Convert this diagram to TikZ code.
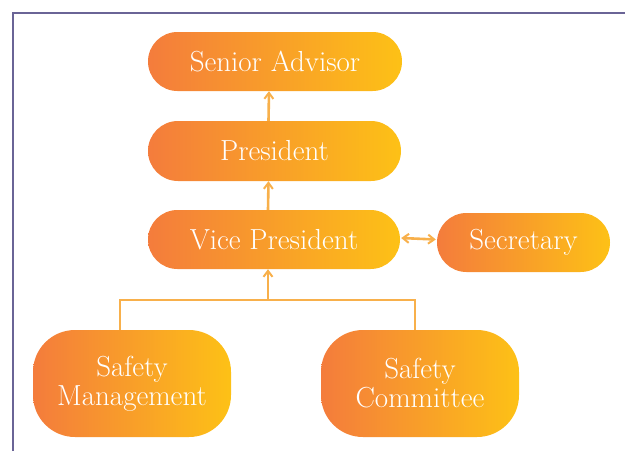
\documentclass[tikz,border=0pt]{standalone}
\usetikzlibrary{arrows.meta}
\definecolor{gradL}{HTML}{F47C3C}
\definecolor{gradR}{HTML}{FDC116}
\definecolor{conn}{HTML}{F8B04B}
\definecolor{frame}{HTML}{6A6496}
\tikzset{
  pill/.style={shape=rectangle, left color=gradL, right color=gradR, draw=none,
    text=white, font=\fontsize{29}{29}\selectfont, align=center, inner sep=0pt},
  conline/.style={draw=conn, line width=2.6pt},
  tip/.style={-{Straight Barb[length=6pt,width=9pt,line width=2pt]}},
}
\begin{document}
\begin{tikzpicture}[x=1pt,y=-1pt]
\useasboundingbox (0,0) rectangle (625,451);
\draw[frame, line width=1.1pt] (13,451) -- (13,13) -- (625,13);
\node[pill, minimum width=254pt, minimum height=59pt, rounded corners=29.5pt] (sa) at (275,61.5) {Senior Advisor};
\node[pill, minimum width=253pt, minimum height=60pt, rounded corners=30pt] (pr) at (274.5,151) {President};
\node[pill, minimum width=252pt, minimum height=59pt, rounded corners=29.5pt] (vp) at (274,239.5) {Vice President};
\node[pill, minimum width=173pt, minimum height=59pt, rounded corners=29.5pt] (sec) at (523.5,242.5) {Secretary};
\node[pill, minimum width=198pt, minimum height=107pt, rounded corners=42pt] (sm) at (132,383.5) {Safety\\Management};
\node[pill, minimum width=198pt, minimum height=107pt, rounded corners=42pt] (sc) at (420,383.5) {Safety\\Committee};
\coordinate (j) at (268,300);
\draw[conline, tip] ([xshift=-6pt]pr.north) -- ([xshift=-6pt]sa.south);
\draw[conline, tip] ([xshift=-6pt]vp.north) -- ([xshift=-6pt]pr.south);
\draw[conline, tip] (j) -- (vp.south -| j);
\draw[conline] ([xshift=-12pt]sm.north) |- (j) -| ([xshift=-5pt]sc.north);
\draw[conline, {Straight Barb[length=6pt,width=9pt,line width=2pt]}-{Straight Barb[length=6pt,width=9pt,line width=2pt]}] ([xshift=1pt,yshift=1.5pt]vp.east) -- ([xshift=-1pt]vp.east -| sec.west);
\end{tikzpicture}
\end{document}
